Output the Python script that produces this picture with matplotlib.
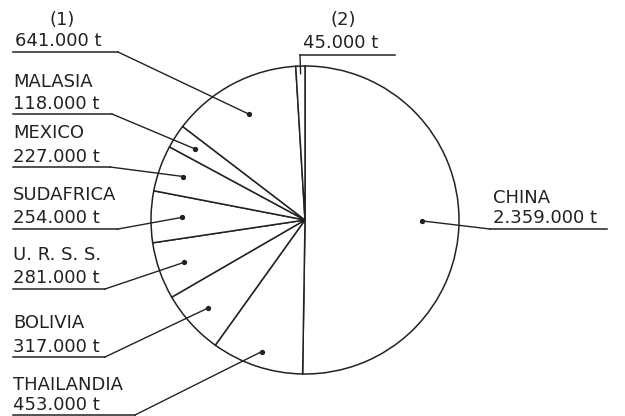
import numpy as np
import matplotlib.pyplot as plt

# production by country, tonnes (clockwise from the top)
countries = ["CHINA", "THAILANDIA", "BOLIVIA", "U. R. S. S.", "SUDAFRICA",
             "MEXICO", "MALASIA", "(1)", "(2)"]
tonnes = [2359000, 453000, 317000, 281000, 254000, 227000, 118000, 641000, 45000]

# where each dot sits inside its slice, as a share of the radius
dot_radius = [0.76, 0.90, 0.85, 0.83, 0.80, 0.84, 0.85, 0.78, 0.95]

# label layout in pixels from the top-left corner:
# (name x, name y, value x, value y, underline y, underline x0, underline x1,
#  name align, side of the underline the leader starts from)
label_layout = [
    (493, 198, 493, 218, 229, 490, 607, "left", 0),
    (13, 385, 13, 405, 415, 13, 135, "left", 1),
    (13, 323, 13, 347, 357, 13, 105, "left", 1),
    (13, 255, 13, 278, 289, 13, 105, "left", 1),
    (13, 195, 13, 218, 229, 13, 118, "left", 1),
    (13, 133, 13, 157, 167, 13, 110, "left", 1),
    (13, 82, 13, 104, 114, 13, 112, "left", 1),
    (62, 20, 15, 41, 52, 13, 118, "center", 1),
    (343, 20, 303, 43, 55, 300, 395, "center", 0),
]

W, H = 625, 416
INK = "#222222"

fig = plt.figure(figsize=(W / 100, H / 100), dpi=100)
ax = fig.add_axes([0, 0, 1, 1])

center = (305, H - 220)
radius = 154
wedges, _ = ax.pie(
    tonnes,
    startangle=90,
    counterclock=False,
    center=center,
    radius=radius,
    wedgeprops=dict(facecolor="white", edgecolor=INK, linewidth=1.1),
)

ax.set_xlim(0, W)
ax.set_ylim(0, H)
ax.set_aspect("equal")
ax.axis("off")

for i, wedge in enumerate(wedges):
    nx, ny, vx, vy, uy, ux0, ux1, align, side = label_layout[i]
    mid = np.deg2rad((wedge.theta1 + wedge.theta2) / 2)
    dx = center[0] + dot_radius[i] * radius * np.cos(mid)
    dy = center[1] + dot_radius[i] * radius * np.sin(mid)

    value_text = f"{tonnes[i]:,}".replace(",", ".") + " t"

    ax.text(nx, H - ny, countries[i], ha=align, va="center",
            fontsize=13, color=INK, family="DejaVu Sans")
    ax.text(vx, H - vy, value_text, ha="left", va="center",
            fontsize=13, color=INK, family="DejaVu Sans")

    ax.plot([ux0, ux1], [H - uy, H - uy], color=INK, linewidth=1.1)

    sx = ux1 if side else ux0
    ax.plot([sx, dx], [H - uy, dy], color=INK, linewidth=1.0)
    if i != 8:
        ax.plot(dx, dy, "o", color=INK, markersize=2.8)

fig.savefig("out.png", dpi=100)
